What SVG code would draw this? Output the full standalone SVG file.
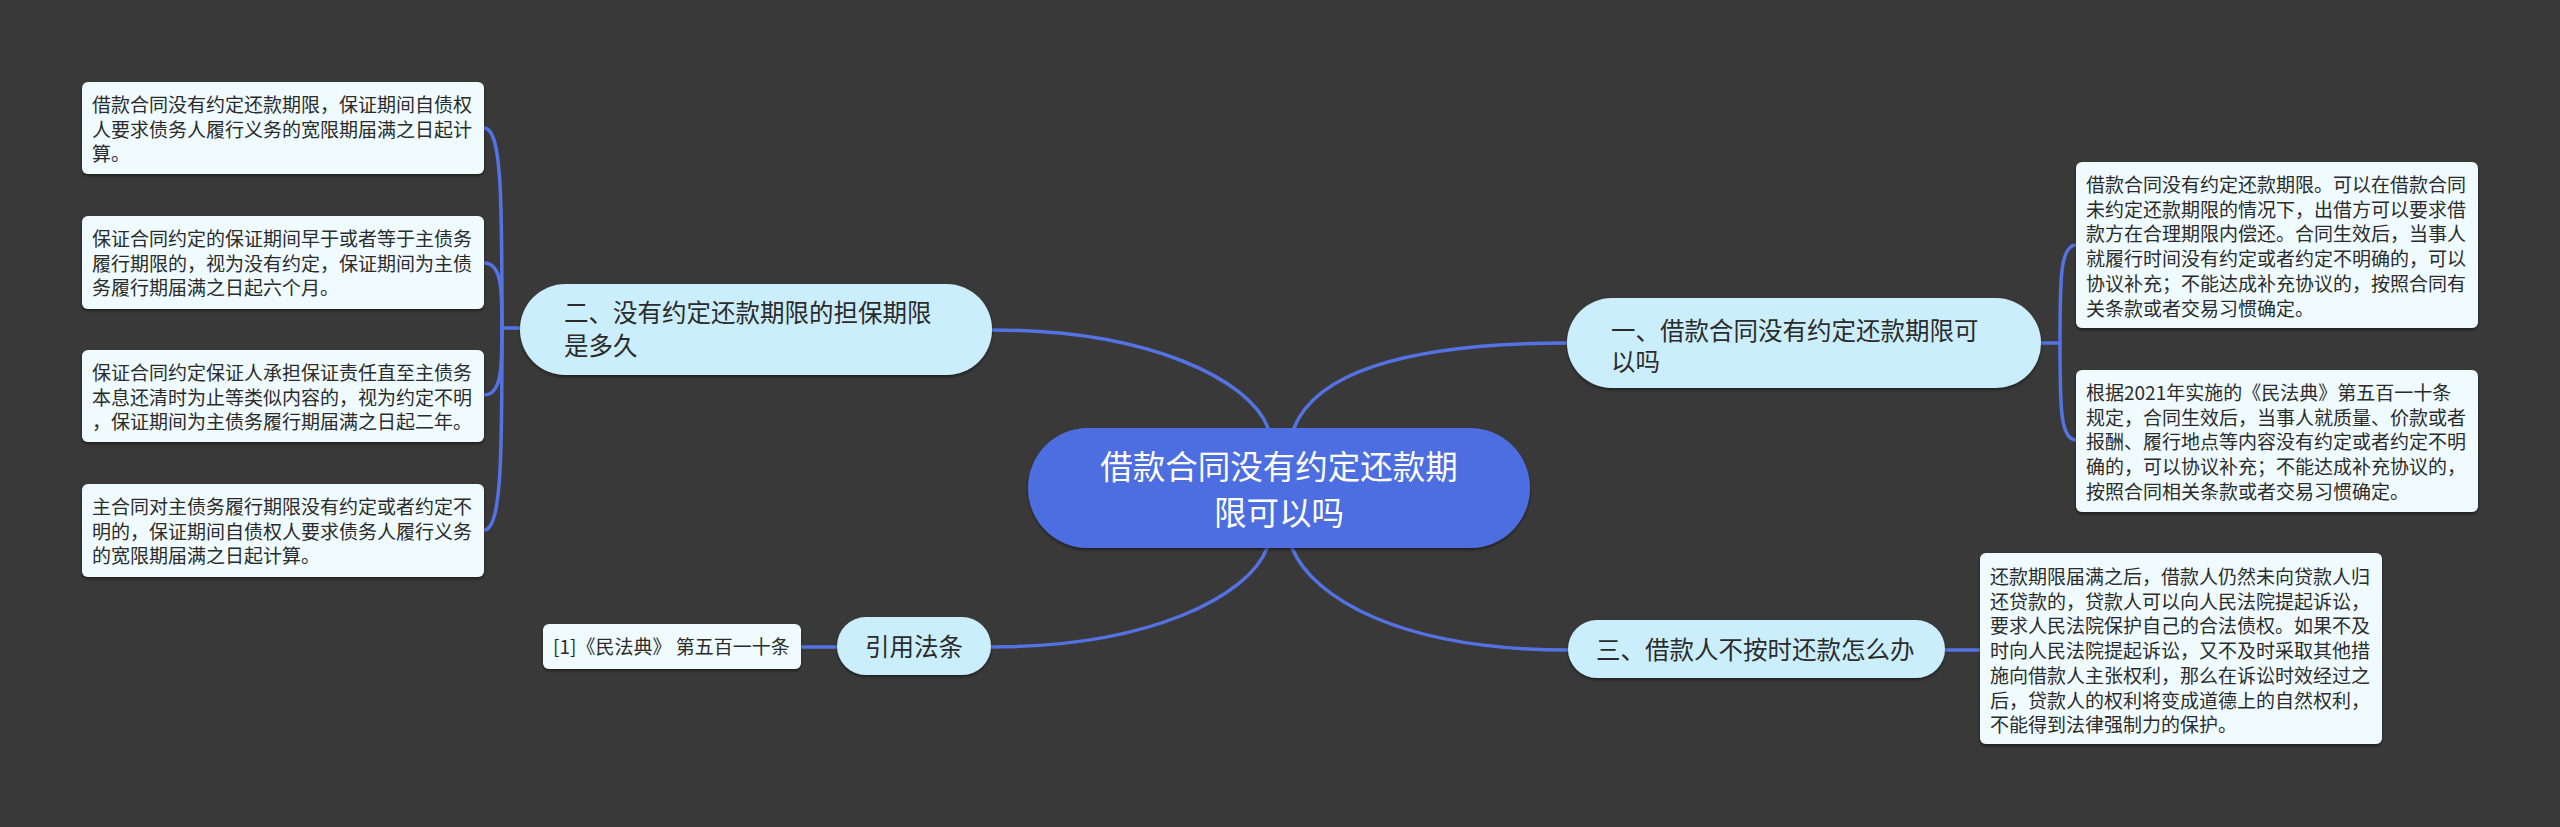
<svg xmlns="http://www.w3.org/2000/svg" width="2560" height="827" viewBox="0 0 2560 827">
<defs>
<filter id="sh" x="-10%" y="-10%" width="120%" height="130%">
<feDropShadow dx="0" dy="2" stdDeviation="1.5" flood-color="#000" flood-opacity="0.45"/>
</filter>
<style>
.bg{fill:#3a3939}
.line{fill:none;stroke:#5472e2;stroke-width:3.5;stroke-linecap:round}
.leaf{fill:#effbfe;filter:url(#sh)}
.branch{fill:#cbeefd;filter:url(#sh)}
.root{fill:#4d6ee0;filter:url(#sh)}
.t{font-family:"Noto Sans CJK SC","Microsoft YaHei",sans-serif;fill:#2b2b2b}
.ts{font-size:19px}
.tb{font-size:24.5px}
.tr{font-size:32.5px;fill:#ffffff;text-anchor:middle}
</style>
</defs>
<rect class="bg" x="0" y="0" width="2560" height="827"/>
<g id="connectors">
<path class="line" d="M1268,428 C1250,380 1150,330 992,330"/>
<path class="line" d="M1294,428 C1315,375 1400,343 1567,343"/>
<path class="line" d="M1267,548 C1249,596 1150,647 991,647"/>
<path class="line" d="M1292,548 C1313,598 1400,650 1568,650"/>
<path class="line" d="M520,328 L502,328"/>
<path class="line" d="M502,328 C502,200 502,128 484,128"/>
<path class="line" d="M502,328 C502,290 502,263 484,263"/>
<path class="line" d="M502,328 C502,366 502,395 484,395"/>
<path class="line" d="M502,328 C502,450 502,530 484,530"/>
<path class="line" d="M2041,343 L2060,343"/>
<path class="line" d="M2060,343 C2060,280 2060,245 2076,245"/>
<path class="line" d="M2060,343 C2060,405 2060,440 2076,440"/>
<path class="line" d="M1945,650 L1981,650"/>
<path class="line" d="M837,647 L801,647"/>
</g>
<g id="root">
<rect class="root" x="1028" y="428" width="502" height="120" rx="60"/>
<text class="t tr" x="1279" y="479">借款合同没有约定还款期</text>
<text class="t tr" x="1279" y="525">限可以吗</text>
</g>
<g id="b2">
<rect class="branch" x="520" y="284" width="472" height="91" rx="45.5"/>
<text class="t tb" x="564" y="322">二、没有约定还款期限的担保期限</text>
<text class="t tb" x="564" y="355">是多久</text>
</g>
<g id="b1">
<rect class="branch" x="1567" y="298" width="474" height="90" rx="45"/>
<text class="t tb" x="1611" y="340">一、借款合同没有约定还款期限可</text>
<text class="t tb" x="1611" y="371">以吗</text>
</g>
<g id="b3">
<rect class="branch" x="1568" y="620" width="377" height="58" rx="29"/>
<text class="t tb" x="1596" y="659">三、借款人不按时还款怎么办</text>
</g>
<g id="b4">
<rect class="branch" x="837" y="617" width="154" height="58" rx="29"/>
<text class="t tb" x="914" y="656" text-anchor="middle">引用法条</text>
</g>
<g id="l2a">
<rect class="leaf" x="82" y="82" width="402" height="92" rx="6"/>
<text class="t ts" x="92" y="112">借款合同没有约定还款期限，保证期间自债权</text>
<text class="t ts" x="92" y="136.7">人要求债务人履行义务的宽限期届满之日起计</text>
<text class="t ts" x="92" y="161.4">算。</text>
</g>
<g id="l2b">
<rect class="leaf" x="82" y="216" width="402" height="93" rx="6"/>
<text class="t ts" x="92" y="246">保证合同约定的保证期间早于或者等于主债务</text>
<text class="t ts" x="92" y="270.7">履行期限的，视为没有约定，保证期间为主债</text>
<text class="t ts" x="92" y="295.4">务履行期届满之日起六个月。</text>
</g>
<g id="l2c">
<rect class="leaf" x="82" y="350" width="402" height="92" rx="6"/>
<text class="t ts" x="92" y="380">保证合同约定保证人承担保证责任直至主债务</text>
<text class="t ts" x="92" y="404.7">本息还清时为止等类似内容的，视为约定不明</text>
<text class="t ts" x="92" y="429.4">，保证期间为主债务履行期届满之日起二年。</text>
</g>
<g id="l2d">
<rect class="leaf" x="82" y="484" width="402" height="93" rx="6"/>
<text class="t ts" x="92" y="514">主合同对主债务履行期限没有约定或者约定不</text>
<text class="t ts" x="92" y="538.7">明的，保证期间自债权人要求债务人履行义务</text>
<text class="t ts" x="92" y="563.4">的宽限期届满之日起计算。</text>
</g>
<g id="l1a">
<rect class="leaf" x="2076" y="162" width="402" height="166" rx="6"/>
<text class="t ts" x="2086" y="192">借款合同没有约定还款期限。可以在借款合同</text>
<text class="t ts" x="2086" y="216.7">未约定还款期限的情况下，出借方可以要求借</text>
<text class="t ts" x="2086" y="241.4">款方在合理期限内偿还。合同生效后，当事人</text>
<text class="t ts" x="2086" y="266.1">就履行时间没有约定或者约定不明确的，可以</text>
<text class="t ts" x="2086" y="290.8">协议补充；不能达成补充协议的，按照合同有</text>
<text class="t ts" x="2086" y="315.5">关条款或者交易习惯确定。</text>
</g>
<g id="l1b">
<rect class="leaf" x="2076" y="370" width="402" height="142" rx="6"/>
<text class="t ts" x="2086" y="400">根据2021年实施的《民法典》第五百一十条</text>
<text class="t ts" x="2086" y="424.7">规定，合同生效后，当事人就质量、价款或者</text>
<text class="t ts" x="2086" y="449.4">报酬、履行地点等内容没有约定或者约定不明</text>
<text class="t ts" x="2086" y="474.1">确的，可以协议补充；不能达成补充协议的，</text>
<text class="t ts" x="2086" y="498.8">按照合同相关条款或者交易习惯确定。</text>
</g>
<g id="l3a">
<rect class="leaf" x="1980" y="553" width="402" height="191" rx="6"/>
<text class="t ts" x="1990" y="584">还款期限届满之后，借款人仍然未向贷款人归</text>
<text class="t ts" x="1990" y="608.7">还贷款的，贷款人可以向人民法院提起诉讼，</text>
<text class="t ts" x="1990" y="633.4">要求人民法院保护自己的合法债权。如果不及</text>
<text class="t ts" x="1990" y="658.1">时向人民法院提起诉讼，又不及时采取其他措</text>
<text class="t ts" x="1990" y="682.8">施向借款人主张权利，那么在诉讼时效经过之</text>
<text class="t ts" x="1990" y="707.5">后，贷款人的权利将变成道德上的自然权利，</text>
<text class="t ts" x="1990" y="732.2">不能得到法律强制力的保护。</text>
</g>
<g id="l4a">
<rect class="leaf" x="543" y="624" width="258" height="45" rx="6"/>
<text class="t ts" x="553" y="653.5">[1]《民法典》 第五百一十条</text>
</g>
</svg>
